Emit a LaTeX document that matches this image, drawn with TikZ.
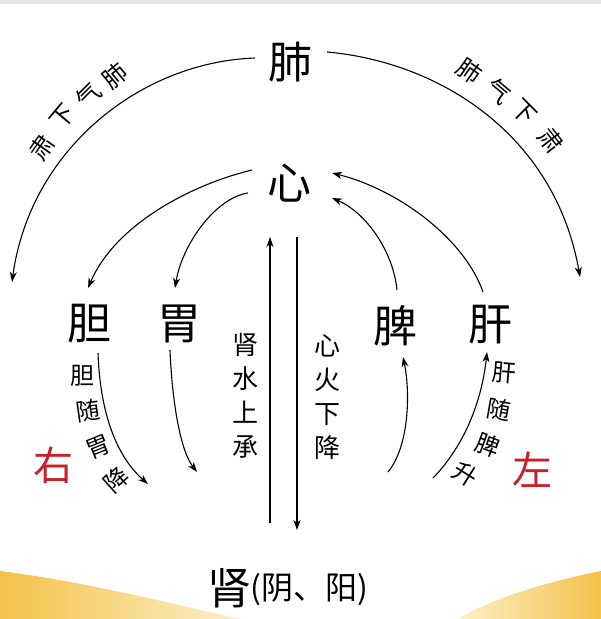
\documentclass[tikz,border=0pt]{standalone}
\usepackage{fontspec}
\newfontfamily\cjk{Noto Sans CJK SC}
\usetikzlibrary{arrows.meta,calc}
\definecolor{redtxt}{HTML}{C8202A}
\definecolor{yel}{HTML}{F3C24A}
\definecolor{yellight}{HTML}{FCEFC8}
\begin{document}
\begin{tikzpicture}[x=1pt,y=-1pt,
  organ/.style={font=\cjk\fontsize{44}{44}\selectfont, inner sep=0pt},
  lbl/.style={font=\cjk\fontsize{24}{24}\selectfont, inner sep=0pt},
  vlbl/.style={font=\cjk\fontsize{26}{34}\selectfont, inner sep=0pt, align=center},
  side/.style={font=\cjk\fontsize{40}{40}\selectfont, text=redtxt, inner sep=0pt},
  flow/.style={line width=1.1pt, -{Stealth[length=10pt,width=7pt,inset=3pt]}},
]
\useasboundingbox (0,0) rectangle (601,619);
\fill[black!10] (0,0) rectangle (601,4);
% yellow corners
\shade[left color=yel, right color=yellight] (0,571) .. controls (80,581) and (170,603) .. (240,619) -- (0,619) -- cycle;
\shade[left color=yellight, right color=yel] (601,571) .. controls (530,585) and (480,605) .. (458,619) -- (601,619) -- cycle;

% organs
\node[organ] (fei) at (290,62) {肺};
\node[organ] (xin) at (289,183) {心};
\node[organ] (dan) at (89,324) {胆};
\node[organ] (wei) at (179,324) {胃};
\node[organ] (pi) at (395,326) {脾};
\node[organ] (gan) at (490,325) {肝};
\node[organ] (shen) at (229,588) {肾};
\node[font=\cjk\fontsize{32}{32}\selectfont, inner sep=0pt, anchor=west] (yy) at (250,590) {(阴、阳)};
\node[side] (you) at (53,465) {右};
\node[side] (zuo) at (532,470) {左};
\node[vlbl] (sswsc) at (245,396) {肾\\水\\上\\承};
\node[vlbl] (xhxj) at (327,397) {心\\火\\下\\降};

% arc labels
\node[lbl, rotate=40] (l1) at (115,76) {肺};
\node[lbl, rotate=45] (l2) at (89,96) {气};
\node[lbl, rotate=50] (l3) at (63,117) {下};
\node[lbl, rotate=55] (l4) at (42,147) {肃};
\node[lbl, rotate=-35] (r1) at (469,71) {肺};
\node[lbl, rotate=-40] (r2) at (499,91) {气};
\node[lbl, rotate=-45] (r3) at (524,112) {下};
\node[lbl, rotate=-52] (r4) at (551,140) {肃};
\node[lbl] (d1) at (82,376) {胆};
\node[lbl, rotate=8] (d2) at (88,411) {随};
\node[lbl, rotate=22] (d3) at (98,447) {胃};
\node[lbl, rotate=42] (d4) at (116,480) {降};
\node[lbl, rotate=-5] (g1) at (504,373) {肝};
\node[lbl, rotate=-10] (g2) at (499,410) {随};
\node[lbl, rotate=-20] (g3) at (488,445) {脾};
\node[lbl, rotate=-32] (g4) at (465,474) {升};

% free ends
\coordinate (farL) at (12,282);
\coordinate (farR) at (580,277);
\coordinate (danEnd) at (148,484);
\coordinate (weiEnd) at (197,472);
\coordinate (piStart) at (388,472);
\coordinate (ganStart) at (433,478);

% big arcs
\draw[flow] ($(fei)+(-35,-4)$) .. controls (140,62) and (30,150) .. (farL);
\draw[flow] ($(fei)+(37,-10)$) .. controls (440,62) and (555,135) .. (farR);
% heart to gall / stomach
\draw[flow] ($(xin)+(-37,-13)$) .. controls (190,185) and (115,225) .. ($(dan)+(-1,-36)$);
\draw[flow] ($(xin)+(-41,10)$) .. controls (215,198) and (182,245) .. ($(wei)+(-4,-36)$);
% liver / spleen to heart
\draw[flow] ($(gan)+(-7,-33)$) .. controls (465,240) and (400,190) .. ($(xin)+(43,-10)$);
\draw[flow] ($(pi)+(2,-36)$) .. controls (393,250) and (365,212) .. ($(xin)+(43,15)$);
% lower arrows
\draw[flow] ($(dan)+(9,29)$) .. controls (100,410) and (115,455) .. (danEnd);
\draw[flow] ($(wei)+(-9,26)$) .. controls (172,400) and (180,450) .. (weiEnd);
\draw[flow] (piStart) .. controls (410,445) and (410,390) .. ($(pi)+(8,31)$);
\draw[flow] (ganStart) .. controls (465,445) and (482,400) .. ($(gan)+(-3,27)$);
% vertical kidney-heart
\draw[flow] ($(shen)+(41,-65)$) -- ($(xin)+(-19,54)$);
\draw[flow] ($(xin)+(8,54)$) -- ($(shen)+(68,-58)$);
\end{tikzpicture}
\end{document}
